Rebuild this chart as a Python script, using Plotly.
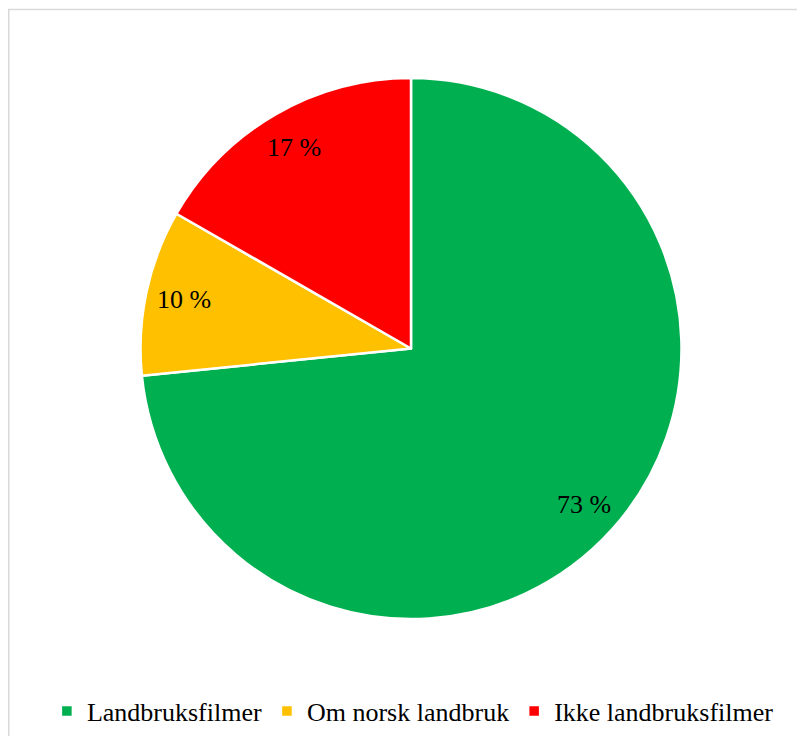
import math
import plotly.graph_objects as go

labels = ["Landbruksfilmer", "Om norsk landbruk", "Ikke landbruksfilmer"]
values = [73.4, 9.9, 16.7]
colors = ["#00B050", "#FFC000", "#FF0000"]

# figure is placed at (8,8) in the page by the default body margin
W, H = 797, 728
cx, cy, r = 403, 340.5, 270.5
label_frac = 0.86

fig = go.Figure(go.Pie(
    labels=labels,
    values=values,
    sort=False,
    direction="clockwise",
    rotation=0,
    marker=dict(colors=colors, line=dict(color="white", width=2.5)),
    textinfo="none",
    hoverinfo="label+percent",
    domain=dict(x=[(cx - r) / W, (cx + r) / W], y=[(H - (cy + r)) / H, (H - (cy - r)) / H]),
))

# data labels placed along each slice's mid angle (computed from values)
total = sum(values)
annotations = []
cum = 0
for v in values:
    mid = (cum + v / 2) / total * 2 * math.pi
    cum += v
    px = cx + label_frac * r * math.sin(mid)
    py = cy - label_frac * r * math.cos(mid)
    annotations.append(dict(
        x=px / W, y=(H - py) / H, xref="paper", yref="paper",
        text=f"{round(v / total * 100)} %", showarrow=False,
        xanchor="center", yanchor="middle",
        font=dict(family="Liberation Serif", size=26, color="black"),
    ))

fig.update_layout(
    width=W, height=H,
    margin=dict(l=0, r=0, t=0, b=0),
    paper_bgcolor="white",
    plot_bgcolor="white",
    showlegend=True,
    legend=dict(
        orientation="h",
        x=0.508, xanchor="center",
        y=(H - 703) / H, yanchor="middle",
        font=dict(family="Liberation Serif", size=26, color="black"),
        itemwidth=30,
        tracegroupgap=0,
    ),
    annotations=annotations,
    shapes=[dict(type="rect", xref="paper", yref="paper",
                 x0=0.75 / W, x1=1.02, y0=-0.02, y1=(H - 1.5) / H,
                 line=dict(color="#D9D9D9", width=1.5), fillcolor="rgba(0,0,0,0)")],
)

fig.write_html("out.html")
